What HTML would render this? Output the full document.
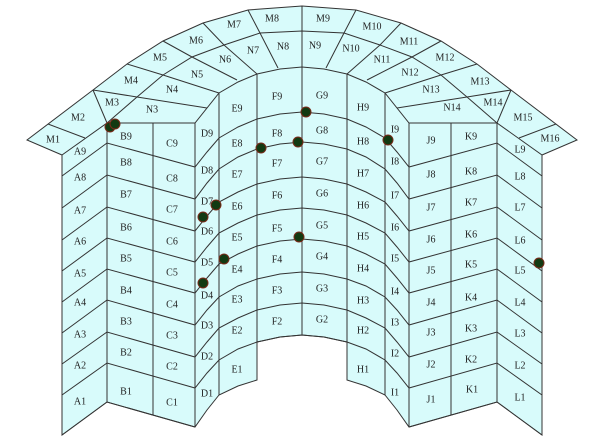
<!DOCTYPE html>
<html><head><meta charset="utf-8"><style>
html,body{margin:0;padding:0;background:#fff;width:600px;height:440px;overflow:hidden}
svg text{font-family:"Liberation Serif",serif;font-size:10px;fill:#222;text-anchor:middle;dominant-baseline:central}
</style></head><body>
<svg width="600" height="440" viewBox="0 0 600 440" xmlns="http://www.w3.org/2000/svg">
<polygon fill="#d8fbfb" stroke="#333" stroke-width="1" points="62,435 62,155 27,140 93,90 127,64 163,41 203,23 248,10 302,6 356,10 401,23 441,41 477,64 511,90 577,140 542,155 542,435 497,402 409,427 397,410 385,395 366,386 347,380 347,342 324,337 302,335 280,337 257,342 257,380 238,386 219,395 207,410 195,427 107,402"/>
<g fill="none" stroke="#333" stroke-width="1">
<polyline points="62,435 107,402 195,427"/>
<polyline points="409,427 497,402 542,435"/>
<polyline points="62,395 107,363 195,388 207,373 219,360 238,349 257,342 280,337 302,335 324,337 347,342 366,349 385,360 397,373 409,388 497,363 542,395"/>
<polyline points="62,364 107,332 195,357 207,342 219,328 238,318 257,310 280,305 302,303 324,305 347,310 366,318 385,328 397,342 409,357 497,332 542,364"/>
<polyline points="62,333 107,300 195,325 207,310 219,297 238,286 257,279 280,274 302,272 324,274 347,279 366,286 385,297 397,310 409,325 497,300 542,333"/>
<polyline points="62,302 107,269 195,293 207,278 219,264 238,254 257,246 280,241 302,239 324,241 347,246 366,254 385,264 397,278 409,293 497,269 542,302"/>
<polyline points="62,271 107,238 195,262 207,247 219,233 238,223 257,215 280,210 302,208 324,210 347,215 366,223 385,233 397,247 409,262 497,238 542,271"/>
<polyline points="62,240 107,207 195,231 207,216 219,202 238,192 257,184 280,179 302,177 324,179 347,184 366,192 385,202 397,216 409,231 497,207 542,240"/>
<polyline points="62,208 107,175 195,199 207,183 219,169 238,157 257,149 280,144 302,142 324,144 347,149 366,157 385,169 397,183 409,199 497,175 542,208"/>
<polyline points="62,176 107,143 195,167 207,152 219,138 238,127 257,119 280,114 302,112 324,114 347,119 366,127 385,138 397,152 409,167 497,143 542,176"/>
<polyline points="62,155 107,123 195,123 219,93 238,82 257,74 280,69 302,67 324,69 347,74 366,82 385,93 409,123 497,123 542,155"/>
<polyline points="107,123 137,97 163,75 192,57 224,45 260,33 302,31 344,33 380,45 412,57 441,75 467,97 497,123"/>
<path d="M107,123V402 M153,123V415 M195,123V427 M219,93V395 M257,74V380 M302,67V335 M347,74V380 M385,93V395 M409,123V427 M451,123V415 M497,123V402"/>
<path d="M48,124L85,138 M93,90L107,123 M93,90L137,97 M127,64L163,75 M163,41L192,57 M203,23L224,45 M248,10L260,33 M302,6L302,31
M556,124L519,138 M511,90L497,123 M511,90L467,97 M477,64L441,75 M441,41L412,57 M401,23L380,45 M356,10L344,33
M137,97L207,108 M163,75L219,93 M192,57L237,80 M224,45L257,74 M260,33L278,68 M302,31L302,67
M467,97L397,108 M441,75L385,93 M412,57L367,80 M380,45L347,74 M344,33L326,68"/>
</g>
<g fill="#123a12" stroke="#7a2a1a" stroke-width="1">
<circle cx="110" cy="127" r="5"/><circle cx="115" cy="124" r="5"/>
<circle cx="261" cy="148" r="5"/><circle cx="298" cy="142" r="5"/><circle cx="306" cy="112" r="5"/>
<circle cx="388" cy="140" r="5"/><circle cx="216" cy="205" r="5"/><circle cx="203" cy="217" r="5"/>
<circle cx="224" cy="259" r="5"/><circle cx="203" cy="283" r="5"/><circle cx="299" cy="237" r="5"/>
<circle cx="539" cy="263" r="5"/>
</g>
<g>
<text x="53" y="140">M1</text><text x="78" y="118">M2</text><text x="112" y="103">M3</text><text x="131" y="81">M4</text>
<text x="160" y="58">M5</text><text x="196" y="41">M6</text><text x="234" y="25">M7</text><text x="272" y="19">M8</text>
<text x="323" y="19">M9</text><text x="372" y="27">M10</text><text x="409" y="42">M11</text><text x="445" y="58">M12</text>
<text x="480" y="82">M13</text><text x="493" y="103">M14</text><text x="523" y="118">M15</text><text x="550" y="139">M16</text>
<text x="152" y="110">N3</text><text x="172" y="90">N4</text><text x="197" y="75">N5</text><text x="225" y="60">N6</text>
<text x="253" y="51">N7</text><text x="283" y="47">N8</text><text x="315" y="46">N9</text><text x="351" y="49">N10</text>
<text x="382" y="60">N11</text><text x="410" y="73">N12</text><text x="431" y="90">N13</text><text x="452" y="108">N14</text>
<text x="80" y="152">A9</text><text x="80" y="178">A8</text><text x="80" y="211">A7</text><text x="80" y="242">A6</text><text x="80" y="274">A5</text><text x="80" y="303">A4</text><text x="80" y="335">A3</text><text x="80" y="366">A2</text><text x="80" y="402">A1</text>
<text x="126" y="137">B9</text><text x="126" y="163">B8</text><text x="126" y="195">B7</text><text x="126" y="228">B6</text><text x="126" y="259">B5</text><text x="126" y="291">B4</text><text x="126" y="322">B3</text><text x="126" y="353">B2</text><text x="126" y="392">B1</text>
<text x="172" y="144">C9</text><text x="172" y="179">C8</text><text x="172" y="210">C7</text><text x="172" y="242">C6</text><text x="172" y="273">C5</text><text x="172" y="305">C4</text><text x="172" y="336">C3</text><text x="172" y="367">C2</text><text x="172" y="403">C1</text>
<text x="207" y="134">D9</text><text x="207" y="171">D8</text><text x="207" y="202">D7</text><text x="207" y="232">D6</text><text x="207" y="263">D5</text><text x="207" y="296">D4</text><text x="207" y="326">D3</text><text x="207" y="357">D2</text><text x="207" y="394">D1</text>
<text x="237" y="109">E9</text><text x="237" y="144">E8</text><text x="237" y="175">E7</text><text x="237" y="207">E6</text><text x="237" y="238">E5</text><text x="237" y="270">E4</text><text x="237" y="300">E3</text><text x="237" y="331">E2</text><text x="237" y="370">E1</text>
<text x="277" y="97">F9</text><text x="277" y="134">F8</text><text x="277" y="164">F7</text><text x="277" y="196">F6</text><text x="277" y="229">F5</text><text x="277" y="260">F4</text><text x="277" y="291">F3</text><text x="277" y="322">F2</text>
<text x="322" y="96">G9</text><text x="322" y="131">G8</text><text x="322" y="162">G7</text><text x="322" y="194">G6</text><text x="322" y="226">G5</text><text x="322" y="257">G4</text><text x="322" y="289">G3</text><text x="322" y="320">G2</text>
<text x="363" y="108">H9</text><text x="363" y="142">H8</text><text x="363" y="174">H7</text><text x="363" y="206">H6</text><text x="363" y="237">H5</text><text x="363" y="269">H4</text><text x="363" y="301">H3</text><text x="363" y="331">H2</text><text x="363" y="370">H1</text>
<text x="395" y="130">I9</text><text x="395" y="162">I8</text><text x="395" y="196">I7</text><text x="395" y="228">I6</text><text x="395" y="259">I5</text><text x="395" y="292">I4</text><text x="395" y="323">I3</text><text x="395" y="354">I2</text><text x="395" y="393">I1</text>
<text x="431" y="141">J9</text><text x="431" y="175">J8</text><text x="431" y="208">J7</text><text x="431" y="240">J6</text><text x="431" y="271">J5</text><text x="431" y="303">J4</text><text x="431" y="333">J3</text><text x="431" y="365">J2</text><text x="431" y="400">J1</text>
<text x="471" y="137">K9</text><text x="471" y="172">K8</text><text x="471" y="203">K7</text><text x="471" y="235">K6</text><text x="471" y="265">K5</text><text x="471" y="298">K4</text><text x="471" y="329">K3</text><text x="471" y="360">K2</text><text x="472" y="390">K1</text>
<text x="520" y="150">L9</text><text x="520" y="177">L8</text><text x="520" y="208">L7</text><text x="520" y="241">L6</text><text x="520" y="271">L5</text><text x="520" y="303">L4</text><text x="520" y="334">L3</text><text x="520" y="366">L2</text><text x="520" y="398">L1</text>
</g>
</svg>
</body></html>
